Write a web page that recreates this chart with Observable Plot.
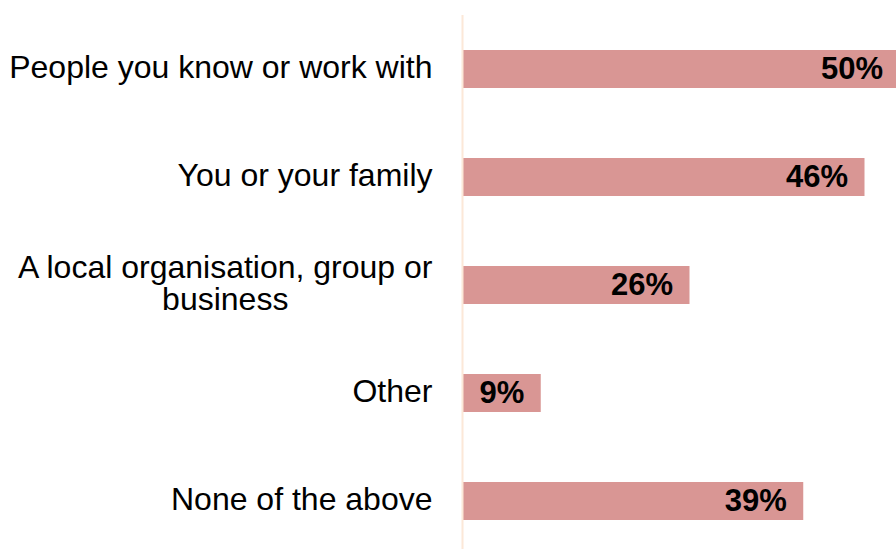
<!DOCTYPE html>
<html>
<head>
<meta charset="utf-8">
<script src="https://cdn.jsdelivr.net/npm/d3@7"></script>
<script src="https://cdn.jsdelivr.net/npm/@observablehq/plot@0.6"></script>
<style>
  html, body { margin: 0; padding: 0; background: #ffffff; overflow: hidden; }
  #chart svg { display: block; }
</style>
</head>
<body>
<div id="chart"></div>
<script>
const categories = [
  "People you know or work with",
  "You or your family",
  "A local organisation, group or\nbusiness",
  "Other",
  "None of the above"
];
const values = [50, 46, 26, 9, 39];
const valueLabels = ["50%", "46%", "26%", "9%", "39%"];

const data = categories.map((c, i) => ({cat: c, value: values[i], label: valueLabels[i]}));

const font = "'Liberation Sans', Arial, Helvetica, sans-serif";

const chart = Plot.plot({
  width: 896,
  height: 549,
  marginLeft: 462,
  marginRight: 0,
  marginTop: 15,
  marginBottom: 0,
  style: {fontFamily: font, background: "#ffffff"},
  x: {domain: [0, 49.6], axis: null},
  y: {domain: categories, axis: null, paddingInner: 0.648, paddingOuter: 0.296, align: 0.55},
  marks: [
    Plot.barX(data, {y: "cat", x: "value", fill: "#d99694", clip: true}),
    Plot.ruleX([0], {stroke: "#fce8d8", strokeWidth: 2}),
    Plot.text(data, {
      y: "cat", x: "value", text: "label",
      textAnchor: "end", dx: -17,
      fontSize: 31, fontWeight: "bold", fill: "#000000"
    }),
    Plot.text(data, {
      y: "cat", text: "cat", frameAnchor: "left",
      textAnchor: "end", dx: -30, dy: -2, lineHeight: 1.0,
      fontSize: 32, fill: "#000000"
    })
  ]
});

document.getElementById("chart").appendChild(chart);

// Center the lines of multi-line category labels within their block
chart.querySelectorAll("text").forEach(t => {
  const spans = t.querySelectorAll("tspan");
  if (spans.length > 1) {
    const widths = Array.from(spans, s => s.getComputedTextLength());
    const maxW = Math.max(...widths);
    spans.forEach((s, i) => {
      s.setAttribute("x", String(-(maxW - widths[i]) / 2));
    });
  }
});
</script>
</body>
</html>
